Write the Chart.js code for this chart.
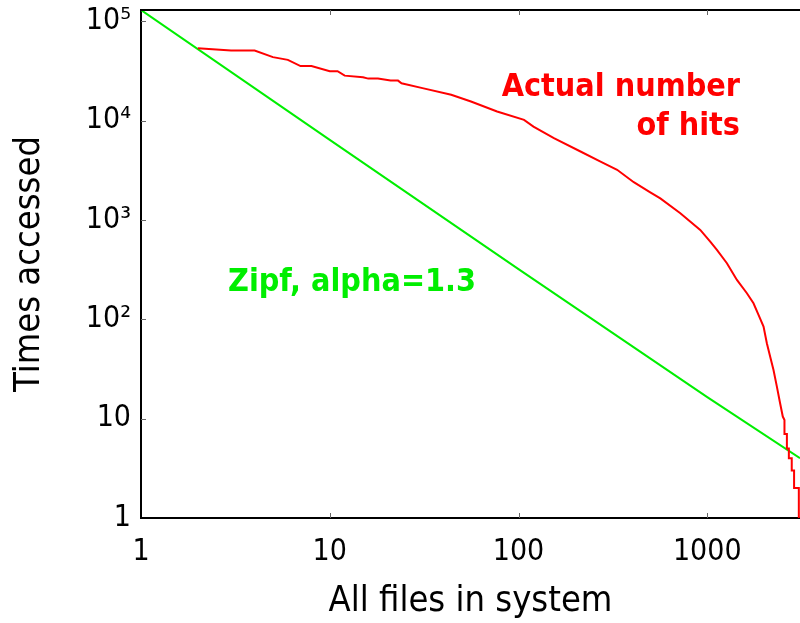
<!DOCTYPE html>
<html>
<head>
<meta charset="utf-8">
<script src="https://cdn.jsdelivr.net/npm/chart.js@4"></script>
<style>
  body { margin: 0; background: #fff; }
</style>
</head>
<body>
<canvas id="hitsChart" width="800" height="623"></canvas>
<script>
// file rank vs. number of hits, both axes logarithmic
const RED_RANK = [2, 3, 4, 5, 6, 7, 8, 10, 11, 12, 15, 16, 18, 21, 23, 24, 31, 44, 56, 77,
  107, 120, 154, 213, 272, 333, 408, 499, 564, 720, 918, 1037, 1125, 1271, 1436, 1622,
  1758, 1869, 1987, 2069, 2155, 2244, 2338, 2432, 2513,
  2565, 2565, 2642, 2642, 2706, 2706, 2803, 2803, 2884, 2884, 3056, 3056];
const RED_HITS = [53700, 50800, 50800, 43600, 40950, 35400, 35400, 31500, 31500, 28400,
  27400, 26500, 26500, 25300, 25300, 23800, 21250, 18200, 15570, 12350,
  10190, 8720, 6660, 4890, 3870, 3200, 2400, 1900, 1650, 1171, 795, 606, 500, 367, 249, 183,
  145, 111, 84.5, 57.5, 42.1, 30.9, 21, 14.3, 10.5,
  9.7, 7, 7, 5, 5, 4, 4, 3, 3, 2, 2, 1];

const ZIPF_RANK = [1, 10, 100, 1000, 3100];
const ZIPF_HITS = [130000, 6400, 320, 16.5, 4];

const X_TICKS = [1, 10, 100, 1000];
const Y_TICKS = [1, 10, 100, 1000, 10000, 100000];
const Y_LABELS = ['1', '10', '10²', '10³', '10⁴', '10⁵'];

const FONT = "'DejaVu Sans Condensed', 'DejaVu Sans', sans-serif";

const toPoints = (xs, ys) => xs.map((x, i) => ({ x, y: ys[i] }));

// top border, inward tick marks and the curve captions
const framePlugin = {
  id: 'frame',
  afterDraw(chart) {
    const { ctx, chartArea: a, scales: { x, y } } = chart;
    ctx.save();
    ctx.strokeStyle = '#000';
    ctx.lineWidth = 2;
    ctx.beginPath();
    ctx.moveTo(a.left - 1, a.top);
    ctx.lineTo(a.right, a.top);
    ctx.stroke();

    ctx.strokeStyle = '#666';
    ctx.lineWidth = 1;
    X_TICKS.slice(1).forEach(v => {
      const px = Math.round(x.getPixelForValue(v)) + 0.5;
      ctx.beginPath();
      ctx.moveTo(px, a.bottom);
      ctx.lineTo(px, a.bottom - 5);
      ctx.moveTo(px, a.top);
      ctx.lineTo(px, a.top + 5);
      ctx.stroke();
    });
    Y_TICKS.slice(1).forEach(v => {
      const py = Math.round(y.getPixelForValue(v)) + 0.5;
      ctx.beginPath();
      ctx.moveTo(a.left, py);
      ctx.lineTo(a.left + 5, py);
      ctx.stroke();
    });

    ctx.font = `bold 32px ${FONT}`;
    ctx.textBaseline = 'middle';
    ctx.fillStyle = '#ff0000';
    ctx.textAlign = 'right';
    ctx.fillText('Actual number', 740, 88);
    ctx.fillText('of hits', 740, 127);
    ctx.fillStyle = '#00ee00';
    ctx.textAlign = 'left';
    ctx.fillText('Zipf, alpha=1.3', 228, 283);
    ctx.restore();
  }
};

new Chart(document.getElementById('hitsChart'), {
  type: 'line',
  data: {
    datasets: [
      {
        label: 'Actual number of hits',
        data: toPoints(RED_RANK, RED_HITS),
        borderColor: '#ff0000',
        borderWidth: 2,
        pointRadius: 0,
        tension: 0,
      },
      {
        label: 'Zipf, alpha=1.3',
        data: toPoints(ZIPF_RANK, ZIPF_HITS),
        borderColor: '#00ee00',
        borderWidth: 2,
        pointRadius: 0,
        tension: 0,
      },
    ],
  },
  options: {
    responsive: false,
    animation: false,
    devicePixelRatio: 1,
    layout: { padding: { top: 10, right: 0, bottom: 0, left: 0 } },
    plugins: {
      legend: { display: false },
      tooltip: { enabled: false },
    },
    scales: {
      x: {
        type: 'logarithmic',
        min: 1,
        max: 3100,
        afterBuildTicks: s => { s.ticks = X_TICKS.map(v => ({ value: v })); },
        afterFit: s => {
          s.height = 105;
          s.paddingLeft = 0;
          s.paddingRight = 0;
        },
        grid: { display: false, drawTicks: false },
        border: { display: true, color: '#000', width: 2 },
        ticks: {
          color: '#000',
          font: { family: FONT, size: 30 },
          padding: 16,
          autoSkip: false,
          maxRotation: 0,
          callback: v => String(v),
        },
        title: {
          display: true,
          text: 'All files in system',
          color: '#000',
          font: { family: FONT, size: 36 },
          padding: { top: 0, bottom: 0 },
        },
      },
      y: {
        type: 'logarithmic',
        min: 1,
        max: 130000,
        afterBuildTicks: s => { s.ticks = Y_TICKS.map(v => ({ value: v })); },
        afterFit: s => {
          s.width = 141;
          s.paddingTop = 0;
          s.paddingBottom = 0;
        },
        grid: { display: false, drawTicks: false },
        border: { display: true, color: '#000', width: 2 },
        ticks: {
          color: '#000',
          font: { family: FONT, size: 30 },
          padding: 10,
          callback: v => Y_LABELS[Y_TICKS.indexOf(v)],
        },
        title: {
          display: true,
          text: 'Times accessed',
          color: '#000',
          font: { family: FONT, size: 36 },
          padding: { top: 8, bottom: 0 },
        },
      },
    },
  },
  plugins: [framePlugin],
});
</script>
</body>
</html>
